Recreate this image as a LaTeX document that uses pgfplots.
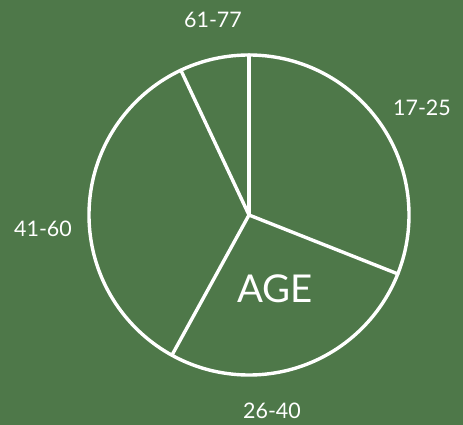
\documentclass[border=0pt]{standalone}
\usepackage{pgfplots}
\pgfplotsset{compat=1.18}
\usepackage{fontspec}
\setmainfont{Lato}
\definecolor{bg}{HTML}{4E7849}
\begin{document}
\begin{tikzpicture}
% slice values (percent): 17-25, 26-40, 41-60, 61-77
\def\vA{31}\def\vB{27}\def\vC{35}\def\vD{7}
\def\cx{249}\def\cy{210}\def\R{160}
\pgfmathsetmacro\aA{90}
\pgfmathsetmacro\aB{\aA-3.6*\vA}
\pgfmathsetmacro\aC{\aB-3.6*\vB}
\pgfmathsetmacro\aD{\aC-3.6*\vC}
\pgfmathsetmacro\xA{\cx+\R*cos(\aA)}\pgfmathsetmacro\yA{\cy+\R*sin(\aA)}
\pgfmathsetmacro\xB{\cx+\R*cos(\aB)}\pgfmathsetmacro\yB{\cy+\R*sin(\aB)}
\pgfmathsetmacro\xC{\cx+\R*cos(\aC)}\pgfmathsetmacro\yC{\cy+\R*sin(\aC)}
\pgfmathsetmacro\xD{\cx+\R*cos(\aD)}\pgfmathsetmacro\yD{\cy+\R*sin(\aD)}
\begin{axis}[hide axis, scale only axis, width=463bp, height=425bp,
  xmin=0, xmax=463, ymin=0, ymax=425, clip=false]
\fill[bg] (axis cs:0,0) rectangle (axis cs:463,425);
\draw[white, line width=3.4bp] (axis cs:\cx,\cy) circle[radius=\R bp];
\addplot[white, line width=3.4bp, line cap=round] coordinates {(\cx,\cy) (\xA,\yA)};
\addplot[white, line width=3.4bp, line cap=round] coordinates {(\cx,\cy) (\xB,\yB)};
\addplot[white, line width=3.4bp, line cap=round] coordinates {(\cx,\cy) (\xC,\yC)};
\addplot[white, line width=3.4bp, line cap=round] coordinates {(\cx,\cy) (\xD,\yD)};
\node[white, font=\fontsize{21.5}{24}\selectfont] at (axis cs:422,317) {17-25};
\node[white, font=\fontsize{21.5}{24}\selectfont] at (axis cs:272,14) {26-40};
\node[white, font=\fontsize{21.5}{24}\selectfont] at (axis cs:43,196) {41-60};
\node[white, font=\fontsize{21.5}{24}\selectfont] at (axis cs:213,405) {61-77};
\node[white, font=\fontsize{38.5}{44}\selectfont] at (axis cs:275,136) {AGE};
\end{axis}
\end{tikzpicture}
\end{document}
